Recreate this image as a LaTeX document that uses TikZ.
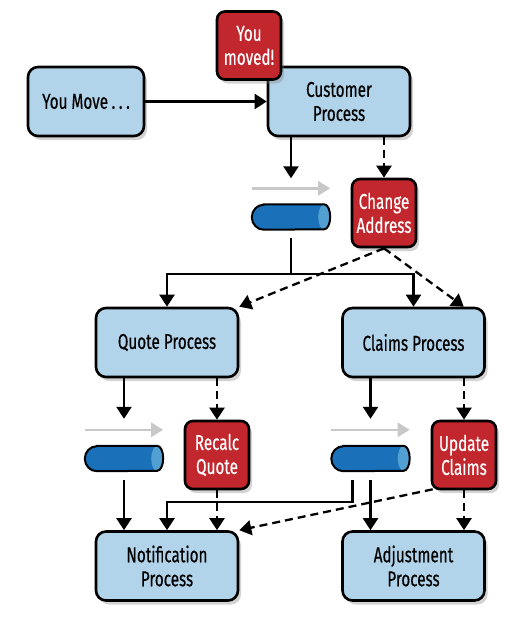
\documentclass[tikz,border=0pt]{standalone}
\usepackage{fontspec}
\setmainfont{Fira Sans}[FakeStretch=0.71, FakeBold=0.4]
\usepackage{xcolor}
\usetikzlibrary{arrows.meta,shadows}

\definecolor{procblue}{RGB}{178,212,234}
\definecolor{evtred}{RGB}{193,39,45}
\definecolor{qblue}{RGB}{26,113,186}
\definecolor{qlight}{RGB}{82,160,210}
\definecolor{flowgray}{RGB}{200,200,200}

\begin{document}
\begin{tikzpicture}[
  x=1pt, y=-1pt,
  font=\fontsize{21.5}{24}\selectfont,
  proc/.style={draw, line width=2.6pt, fill=procblue, rounded corners=10pt,
    minimum width=142pt, minimum height=69pt, align=center, inner sep=0pt,
    drop shadow={shadow xshift=3pt, shadow yshift=-4pt, opacity=0.35}},
  evt/.style={draw, line width=2.6pt, fill=evtred, text=white, rounded corners=8pt,
    minimum width=64pt, minimum height=68pt, align=center, inner sep=0pt,
    drop shadow={shadow xshift=3pt, shadow yshift=-4pt, opacity=0.35}},
  queue/.style={minimum width=78pt, minimum height=25pt, inner sep=0pt},
  flow/.style={line width=2.3pt, -{Triangle[length=12pt,width=15pt]}},
  evtflow/.style={flow, dash pattern=on 8pt off 5pt},
  dir/.style={line width=2.6pt, flowgray, -{Triangle[length=12pt,width=14pt]}}
]
  \useasboundingbox (0,0) rectangle (529,619);

  % processes
  \node[proc, minimum width=116pt] (move) at (86,101.5) {You Move\,.\,.\,.};
  \node[proc] (cust) at (339,101.5) {Customer\\Process};
  \node[evt] (moved) at (249,45.5) {You\\moved!};
  \node[proc] (quote) at (167,342.5) {Quote Process};
  \node[proc] (claims) at (413.5,342.5) {Claims Process};
  \node[proc] (notif) at (167,566) {Notification\\Process};
  \node[proc] (adj) at (413.5,566) {Adjustment\\Process};

  % events
  \node[evt] (chg) at (384,213) {Change\\Address};
  \node[evt] (recalc) at (217,455) {Recalc\\Quote};
  \node[evt] (upd) at (464,455) {Update\\Claims};

  % queues
  \node[queue] (q1) at (291,217) {};
  \node[queue] (q2) at (124,458.5) {};
  \node[queue] (q3) at (370.5,458.5) {};

  \foreach \q in {q1,q2,q3} {
    \fill[qblue] ([xshift=12pt]\q.north west) -- ([xshift=-6pt]\q.north east)
      arc[start angle=90, end angle=-90, x radius=6pt, y radius=12.5pt]
      -- ([xshift=12pt]\q.south west)
      arc[start angle=270, end angle=90, x radius=12pt, y radius=12.5pt] -- cycle;
    \fill[qlight] ([xshift=-6pt]\q.east) ellipse[x radius=6pt, y radius=12.5pt];
    \draw[line width=2pt] ([xshift=12pt]\q.north west) -- ([xshift=-6pt]\q.north east)
      arc[start angle=90, end angle=-90, x radius=6pt, y radius=12.5pt]
      -- ([xshift=12pt]\q.south west)
      arc[start angle=270, end angle=90, x radius=12pt, y radius=12.5pt] -- cycle;
    \draw[dir] ([yshift=16pt]\q.north west) -- ([yshift=16pt]\q.north east);
  }

  \draw[flow] (move) -- (cust);
  \draw[flow] (cust.south -| q1) -- ([yshift=26pt]q1.north);
  \draw[evtflow] (cust.south -| chg) -- (chg.north);

  \coordinate (split) at ([yshift=-44pt]q1.south);
  \draw[line width=2.3pt] ([yshift=-8pt]q1.south) -- (split);
  \draw[flow] (split) -| (quote.north);
  \draw[flow] (split) -| (claims.north);
  \draw[evtflow] (chg.south) -- (quote.north east);
  \draw[evtflow] (chg.south) -- ([xshift=-22pt]claims.north east);

  \draw[flow] (quote.south -| q2) -- ([yshift=27pt]q2.north);
  \draw[evtflow] (quote.south -| recalc) -- (recalc.north);
  \draw[flow] (claims.south -| q3) -- ([yshift=27pt]q3.north);
  \draw[evtflow] (claims.south -| upd) -- (upd.north);

  \draw[flow] ([yshift=-9pt]q2.south) -- (notif.north -| q2);
  \draw[flow] ([xshift=-18pt,yshift=-9pt]q3.south) -- ++(0,22) -| (notif.north);
  \draw[flow] ([yshift=-9pt]q3.south) -- (adj.north -| q3);
  \draw[evtflow] (recalc.south) -- (notif.north -| recalc);
  \draw[evtflow] ([xshift=2pt,yshift=1pt]upd.south west) -- (notif.north east);
  \draw[evtflow] (upd.south) -- (adj.north -| upd);
\end{tikzpicture}
\end{document}
